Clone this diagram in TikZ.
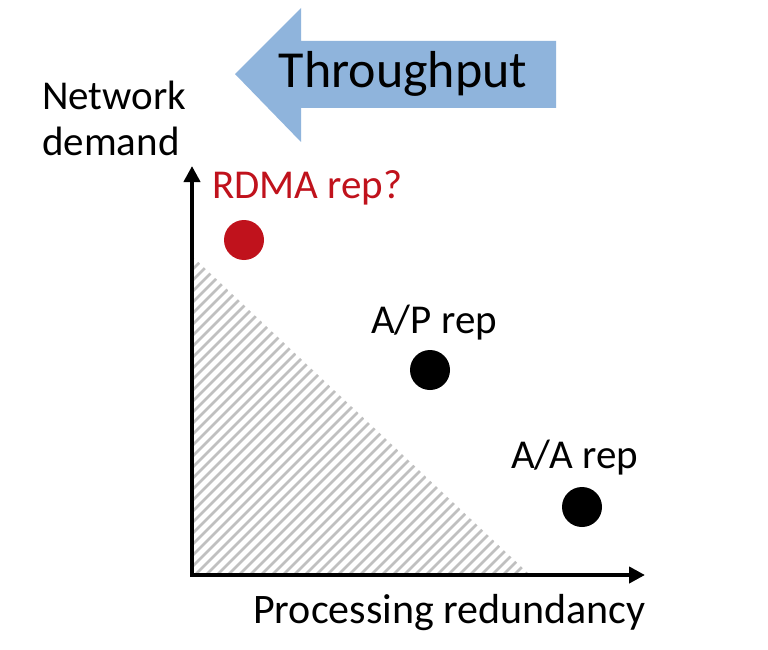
\documentclass[tikz,border=0pt]{standalone}
\usepackage{fontspec}
\setmainfont{Carlito}
\usetikzlibrary{arrows.meta}
\definecolor{arrowblue}{RGB}{143,180,220}
\definecolor{rdmared}{RGB}{192,18,28}
\definecolor{hatchgray}{RGB}{192,192,192}
\begin{document}
\begin{tikzpicture}[x=1pt,y=-1pt,
  lbl/.style={anchor=base west,inner sep=0pt,font=\fontsize{41}{49}\selectfont},
  axis/.style={line width=4pt,-{Triangle[length=16pt,width=16pt]}},
  dot/.style={circle,minimum size=40pt,inner sep=0pt}]
\useasboundingbox[fill=white] (0,0) rectangle (768,650);
% throughput arrow
\fill[arrowblue] (235,74) -- (301,8) -- (301,41) -- (556,41) -- (556,108) -- (301,108) -- (301,142) -- cycle;
\node[anchor=base,inner sep=0pt,font=\fontsize{52}{60}\selectfont] (thr) at (403,88) {Throughput};
% hatched region
\coordinate (O) at (192,575);
\coordinate (ytip) at (192,166);
\coordinate (xtip) at (645,575);
\begin{scope}
\clip (194,258) -- (194,573) -- (528,573) -- cycle;
\foreach \c in {440,451,...,1120} \draw[hatchgray,line width=2.6pt] (\c-650,650) -- (\c-150,150);
\end{scope}
% axes
\draw[axis] (O) -- (ytip);
\draw[axis] ([xshift=-2pt]O) -- (xtip);
% labels
\node[lbl] (nd1) at (42,110) {Network};
\node[lbl] (nd2) at (42,155) {demand};
\node[lbl,font=\fontsize{42}{50}\selectfont] (pr) at (253,623) {Processing redundancy};
\node[lbl,text=rdmared] (rdmal) at (212,198) {RDMA rep?};
\node[lbl] (apl) at (371,333) {A/P rep};
\node[lbl] (aal) at (511,468) {A/A rep};
% dots
\node[dot,fill=rdmared] (rdma) at (244,240) {};
\node[dot,fill=black] (ap) at (430,370) {};
\node[dot,fill=black] (aa) at (582,507) {};
\end{tikzpicture}
\end{document}
